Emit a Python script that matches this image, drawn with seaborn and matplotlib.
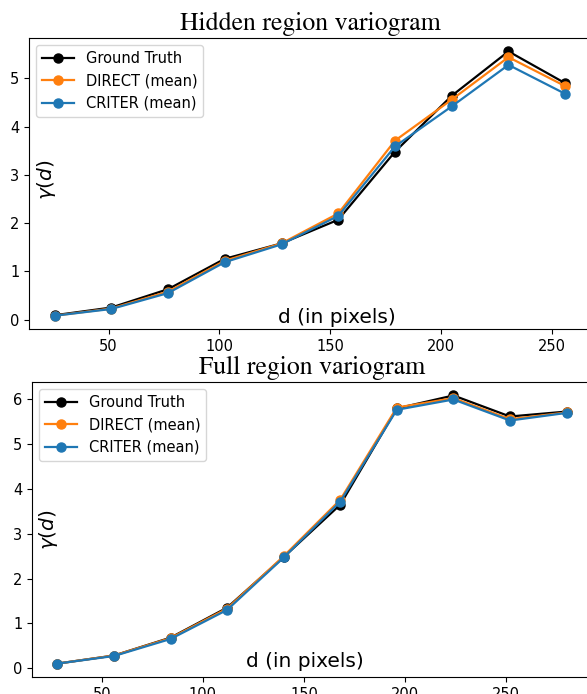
import numpy as np
import matplotlib
matplotlib.use("Agg")
import matplotlib.pyplot as plt
import seaborn as sns

# Lag distances (in pixels)
d_hidden = [25.6, 51.2, 76.8, 102.4, 128.0, 153.6, 179.2, 204.8, 230.4, 256.0]
d_full = [28, 56, 84, 112, 140, 168, 196, 224, 252, 280]

# Hidden region variogram values
hidden_gt = [0.09, 0.25, 0.63, 1.26, 1.58, 2.07, 3.48, 4.64, 5.56, 4.90]
hidden_direct = [0.08, 0.23, 0.58, 1.22, 1.58, 2.20, 3.71, 4.56, 5.44, 4.84]
hidden_criter = [0.08, 0.22, 0.55, 1.19, 1.56, 2.15, 3.59, 4.42, 5.28, 4.68]

# Full region variogram values
full_gt = [0.10, 0.28, 0.68, 1.35, 2.48, 3.65, 5.80, 6.09, 5.62, 5.73]
full_direct = [0.10, 0.28, 0.67, 1.33, 2.50, 3.76, 5.82, 6.03, 5.56, 5.71]
full_criter = [0.10, 0.27, 0.65, 1.30, 2.47, 3.72, 5.77, 6.00, 5.53, 5.70]

labels = ["Ground Truth", "DIRECT (mean)", "CRITER (mean)"]
colors = ["black", "#ff7f0e", "#1f77b4"]

fig = plt.figure(figsize=(5.87, 6.94), dpi=100)
# axes run slightly past the right edge, like the original crop
ax1 = fig.add_axes([0.0494, 0.526, 0.957, 0.419])
ax2 = fig.add_axes([0.0545, 0.0245, 0.954, 0.425])

panels = [
    (ax1, d_hidden, [hidden_gt, hidden_direct, hidden_criter], "Hidden region variogram",
     (0.548, 0.072), (0.051, 0.513)),
    (ax2, d_full, [full_gt, full_direct, full_criter], "Full region variogram",
     (0.487, 0.085), (0.050, 0.50)),
]

for ax, d, series, title, xl_pos, yl_pos in panels:
    for vals, lab, col in zip(series, labels, colors):
        sns.lineplot(x=d, y=vals, ax=ax, color=col, label=lab, marker="o",
                     markersize=6.5, markeredgecolor=col, markeredgewidth=1,
                     linewidth=1.6)
    ax.set_title(title, fontsize=18.5, family="STIXGeneral")
    ax.set_xlabel("d (in pixels)", fontsize=14.5)
    ax.set_ylabel(r"$\gamma(d)$", fontsize=14.5)
    ax.xaxis.set_label_coords(*xl_pos)
    ax.yaxis.set_label_coords(*yl_pos)
    ax.tick_params(labelsize=10.5)
    ax.legend(loc="upper left", fontsize=10.5, handlelength=2.2)

ax1.set_xticks([50, 100, 150, 200, 250])
ax2.set_xticks([50, 100, 150, 200, 250])

fig.savefig("out.png", dpi=100)
